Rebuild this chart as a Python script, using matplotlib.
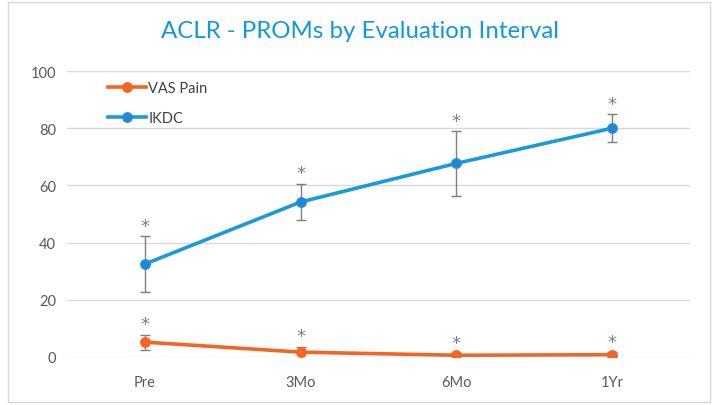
import matplotlib
matplotlib.use("Agg")
import matplotlib.pyplot as plt
from matplotlib.patches import Rectangle

# data
intervals = ["Pre", "3Mo", "6Mo", "1Yr"]
vas_mean = [5.2, 1.7, 0.6, 0.8]
vas_err = [2.6, 1.9, 0.8, 0.8]
ikdc_mean = [32.5, 54.2, 67.7, 80.0]
ikdc_err = [9.8, 6.4, 11.3, 4.9]
star_labels = ["*", "*", "*", "*"]

orange = "#F26522"
blue_line = "#1A9AD6"
blue_mark = "#2585D4"
grey_err = "#7F7F7F"
txt = "#595959"

plt.rcParams["font.family"] = ["Lato", "DejaVu Sans"]

W, H = 715, 406
fig = plt.figure(figsize=(W / 100, H / 100), dpi=100)
ax = fig.add_axes([67 / W, 1 - 358 / H, (690 - 67) / W, (358 - 72) / H])

# outer chart border
fig.patches.append(Rectangle((8 / W, 3 / H), (710 - 8) / W, (403 - 3) / H,
                             transform=fig.transFigure, fill=False,
                             edgecolor="#D9D9D9", linewidth=1))

x = list(range(len(intervals)))

for means, errs, lc, mc, label in [
        (vas_mean, vas_err, orange, orange, "VAS Pain"),
        (ikdc_mean, ikdc_err, blue_line, blue_mark, "IKDC")]:
    ax.errorbar(x, means, yerr=errs, fmt="none", ecolor=grey_err,
                elinewidth=1, capsize=3.5, capthick=1, zorder=2)
    ax.plot(x, means, color=lc, linewidth=2.6, marker="o", markersize=7,
            markerfacecolor=mc, markeredgecolor=lc, markeredgewidth=0.8,
            label=label, zorder=3)
    for xi, m, e, s in zip(x, means, errs, star_labels):
        ax.annotate(s, (xi, m + e), xytext=(0, 1), textcoords="offset points",
                    ha="center", va="bottom", fontsize=13, color=grey_err,
                    family="DejaVu Sans")

ax.set_xlim(-0.5, 3.5)
ax.set_ylim(0, 100)
ax.set_yticks(range(0, 101, 20))
ax.set_xticks(x)
ax.set_xticklabels(intervals)
ax.grid(axis="y", color="#D9D9D9", linewidth=1)
ax.set_axisbelow(True)
for sp in ax.spines.values():
    sp.set_visible(False)
ax.tick_params(length=0, colors=txt, labelsize=10.5)
ax.tick_params(axis="y", pad=8)
ax.tick_params(axis="x", pad=13)

leg = ax.legend(loc="upper left", bbox_to_anchor=(98 / W, 1 - 72 / H),
                bbox_transform=fig.transFigure, frameon=False, fontsize=10.5,
                handlelength=2.6, handletextpad=0.15, labelspacing=1.1,
                borderpad=0.2)
for t in leg.get_texts():
    t.set_color("#404040")

fig.text(0.503, 1 - 31 / H, "ACLR - PROMs by Evaluation Interval",
         ha="center", va="center", fontsize=17.3, color="#1199D8")

fig.savefig("out.png", dpi=100)
